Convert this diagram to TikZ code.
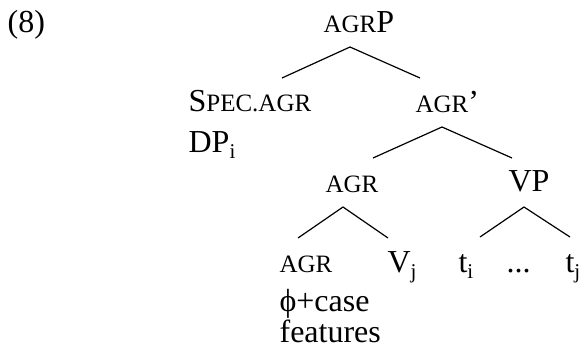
\documentclass[tikz,border=0pt]{standalone}
\usepackage{fontspec}
\setmainfont{Liberation Serif}
\usetikzlibrary{calc}

\newcommand\sca[1]{{\fontsize{25}{30}\selectfont #1}}
\newcommand\sbs[1]{\raisebox{-0.2em}{\fontsize{21}{24}\selectfont #1}}
\tikzset{lbl/.style={anchor=base west, inner sep=0pt, font=\fontsize{32}{38}\selectfont}}

\begin{document}
\begin{tikzpicture}[x=1pt,y=-1pt,line width=1.2pt]
  \useasboundingbox (0,0) rectangle (582,356);

  \node[lbl](ex) at (7,32) {(8)};
  \node[lbl](agrp) at (323,32) {\sca{AGR}P};
  \node[lbl](spec) at (188,111) {S\sca{PEC.AGR}};
  \node[lbl](dp) at (188,152) {DP\sbs{i}};
  \node[lbl](agrbar) at (415,112) {\sca{AGR}’};
  \node[lbl](agr) at (325,192) {\sca{AGR}};
  \node[lbl](vp) at (508,191) {VP};
  \node[lbl](agrlow) at (279,272) {\sca{AGR}};
  \node[lbl](v) at (387,272) {V\sbs{j}};
  \node[lbl](ti) at (458,272) {t\sbs{i}};
  \node[lbl](dots) at (506,272) {...};
  \node[lbl](tj) at (565,272) {t\sbs{j}};
  \node[lbl](phi) at (279,311) {ϕ+case};
  \node[lbl](feat) at (279,342) {features};

  \coordinate(A) at (350,47);
  \coordinate(Al) at (282,78);
  \coordinate(Ar) at (420,78);
  \coordinate(B) at (442,127);
  \coordinate(Bl) at (373,158);
  \coordinate(Br) at (512,158);
  \coordinate(C) at (343,207);
  \coordinate(Cl) at (298,238);
  \coordinate(Cr) at (388,238);
  \coordinate(D) at (524,207);
  \coordinate(Dl) at (480,237);
  \coordinate(Dr) at (570,237);

\draw (Al) -- (A) -- (Ar);
\draw (Bl) -- (B) -- (Br);
\draw (Cl) -- (C) -- (Cr);
\draw (Dl) -- (D) -- (Dr);
\end{tikzpicture}
\end{document}
